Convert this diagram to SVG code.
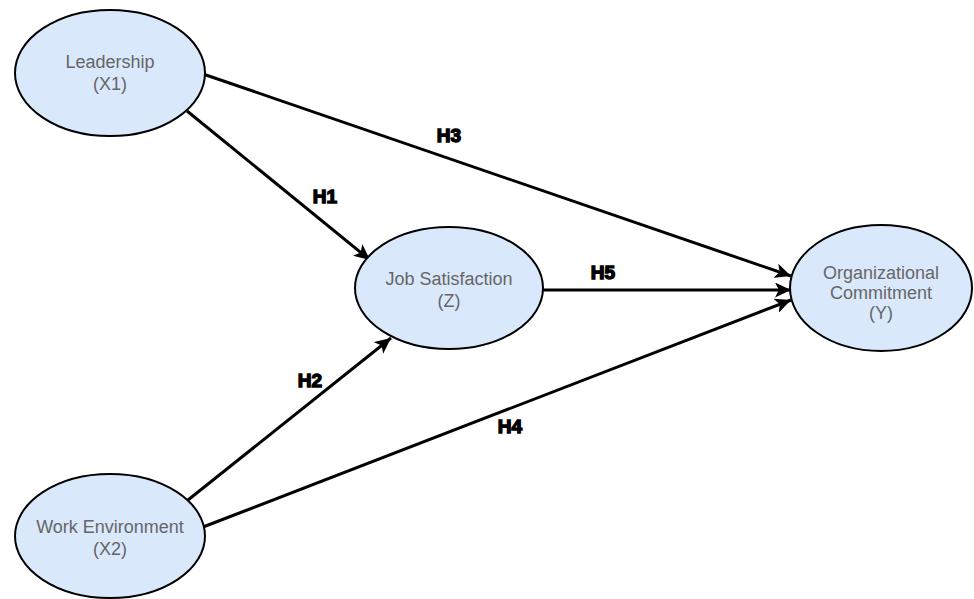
<svg xmlns="http://www.w3.org/2000/svg" width="974" height="599" viewBox="0 0 974 599">
  <style>
    .node ellipse { fill: #dae8fc; stroke: #000; stroke-width: 2; }
    .node text { font-family: "Liberation Sans", Arial, sans-serif; font-size: 18px; fill: #666; text-anchor: middle; }
    .edge { stroke: #000; stroke-width: 3; fill: none; marker-end: url(#arrow); }
    .lbl { font-family: "Liberation Sans", Arial, sans-serif; font-size: 19px; font-weight: bold; fill: #000; stroke: #000; stroke-width: 1.4; text-anchor: middle; }
  </style>
  <defs>
    <marker id="arrow" markerUnits="userSpaceOnUse" markerWidth="17" markerHeight="15" refX="16" refY="7.5" orient="auto">
      <path d="M0,0 L16,7.5 L0,15 L4,7.5 Z" fill="#000"/>
    </marker>
  </defs>
  <rect width="974" height="599" fill="#fff"/>

  <g id="connectors">
    <line class="edge" x1="187" y1="111" x2="370" y2="260"/>
    <line class="edge" x1="203" y1="74" x2="791" y2="276"/>
    <line class="edge" x1="543" y1="290" x2="791" y2="290"/>
    <line class="edge" x1="188" y1="500" x2="391" y2="338"/>
    <line class="edge" x1="203" y1="527" x2="791" y2="300"/>
    <text class="lbl" x="325" y="203">H1</text>
    <text class="lbl" x="449" y="142">H3</text>
    <text class="lbl" x="603" y="279">H5</text>
    <text class="lbl" x="310" y="387">H2</text>
    <text class="lbl" x="510" y="433">H4</text>
  </g>

  <g id="leadership" class="node">
    <ellipse cx="110" cy="73" rx="95" ry="63"/>
    <text x="110" y="68">Leadership</text>
    <text x="110" y="90">(X1)</text>
  </g>

  <g id="job-satisfaction" class="node">
    <ellipse cx="449" cy="288" rx="94" ry="61"/>
    <text x="449" y="285">Job Satisfaction</text>
    <text x="449" y="307">(Z)</text>
  </g>

  <g id="organizational-commitment" class="node">
    <ellipse cx="881" cy="288" rx="91" ry="63"/>
    <text x="881" y="279">Organizational</text>
    <text x="881" y="299">Commitment</text>
    <text x="881" y="319">(Y)</text>
  </g>

  <g id="work-environment" class="node">
    <ellipse cx="110" cy="536" rx="95" ry="62"/>
    <text x="110" y="533">Work Environment</text>
    <text x="110" y="555">(X2)</text>
  </g>
</svg>
